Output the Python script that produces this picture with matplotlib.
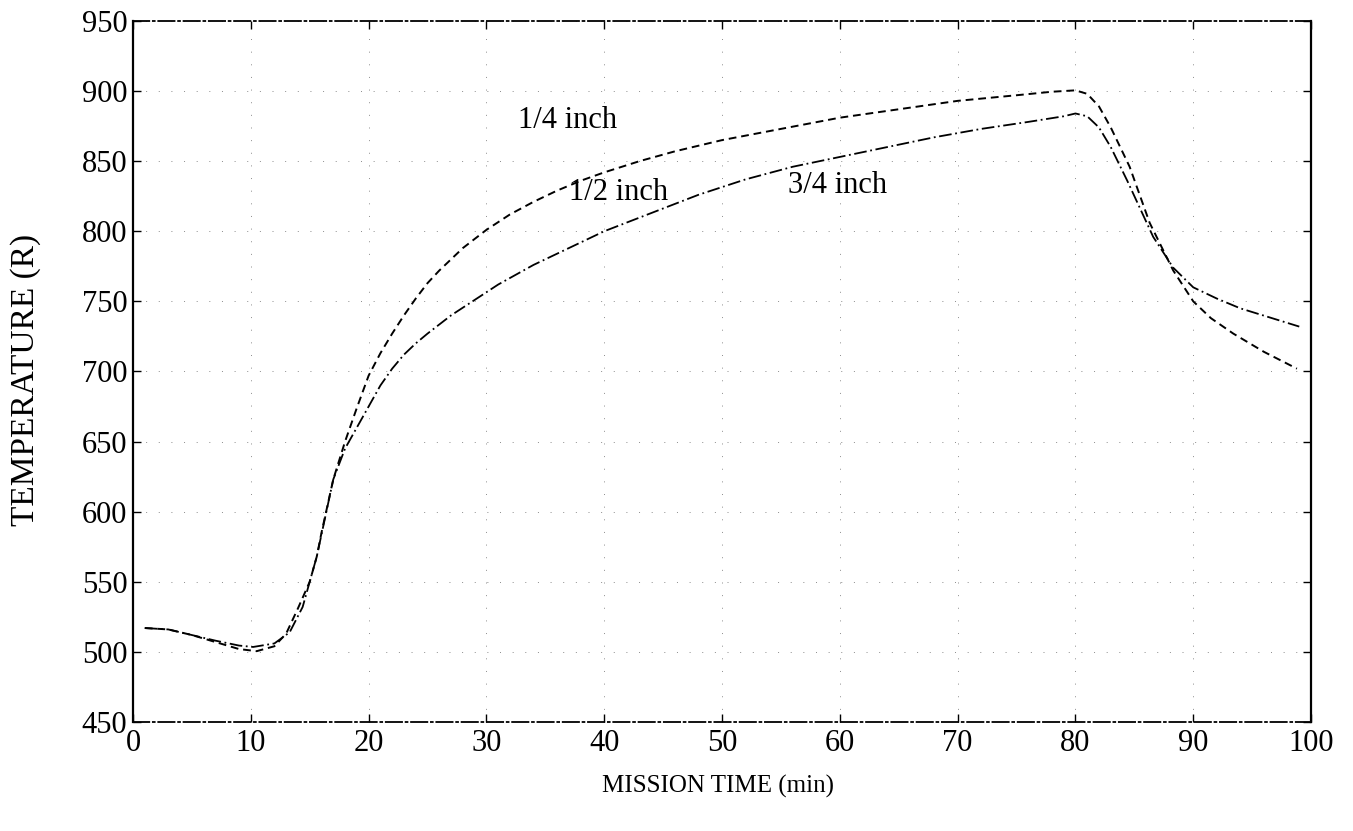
#!/usr/bin/env python3

import matplotlib; matplotlib.use('Agg')
import matplotlib.pyplot as plt

# Data (mission time in min, temperature in R)
x_quarter = [1, 3, 5, 7, 9, 10.5, 12, 13, 14, 15, 15.6, 16, 17, 18, 19, 20, 21, 22, 23,
             24, 25, 26, 28, 30, 32, 34, 36, 38, 40, 43, 46, 50, 55, 60, 65, 70, 75,
             78, 80, 81, 82, 83, 84.6, 86.3, 88.3, 90, 91.5, 93.4, 96, 98.8]
t_quarter = [517, 516, 512, 507, 502, 500.5, 504, 513, 531, 550, 568, 585, 623, 650,
             674, 697, 713, 727, 740, 752, 763, 772, 788, 801, 812, 821, 829, 836, 842,
             850, 857, 865, 873, 881, 887, 893, 897, 899.5, 900.5, 898, 889, 874, 846,
             806, 772, 750, 738, 727, 714, 702]

x_half = [1, 3, 5, 7, 9, 10.2, 12, 13.3, 14.4, 15.6, 17, 18, 19, 20, 21, 22, 23, 24, 25,
          27, 29, 31, 34, 37, 40, 44, 48, 52, 56, 60, 64, 68, 72, 76, 79, 80, 81, 82,
          83, 84.4, 86.6, 88.3, 90, 92, 94, 99]
t_half = [517, 516, 512, 508, 504.5, 503.5, 506, 514, 532, 568, 623, 645, 660, 675, 690,
          702, 712, 720, 727, 740, 751, 762, 776, 788, 800, 813, 826, 837, 846, 853, 860,
          867, 873, 878, 882, 884, 882, 874, 860, 836, 796, 774, 760, 752, 745, 732]

labels = ['1/4 inch', '1/2 inch', '3/4 inch']
label_pos = [(36.9, 878.7), (41.2, 827.3), (59.8, 832.3)]

xticks = list(range(0, 101, 10))
yticks = list(range(450, 951, 50))

plt.rcParams['font.family'] = ['Liberation Serif', 'DejaVu Serif']

fig = plt.figure(figsize=[13.53, 8.31], dpi=100)
ax = fig.add_axes([0.0983, 0.1312, 0.8707, 0.8436])

# Curves
ax.plot(x_quarter, t_quarter, color='black', lw=1.4, linestyle=(0, (4, 2.5)))
ax.plot(x_half, t_half, color='black', lw=1.3, linestyle=(0, (7, 2, 1, 2)))

for lab, (lx, ly) in zip(labels, label_pos):
  ax.text(lx, ly, lab, fontsize=22, ha='center', va='center')

ax.set_xlim(0, 100)
ax.set_ylim(450, 950)
ax.set_xticks(xticks)
ax.set_yticks(yticks)
ax.tick_params(direction='in', length=6, width=1, labelsize=22, top=True, right=True)
ax.tick_params(axis='x', pad=5)
ax.tick_params(axis='y', pad=4)
ax.grid(True, color='0.55', lw=0.7, linestyle=(0, (1, 12)))

for side in ['left', 'right']:
  ax.spines[side].set_linewidth(1.6)
for side in ['top', 'bottom']:
  ax.spines[side].set_linewidth(1.3)
  ax.spines[side].set_linestyle((0, (9, 2, 1, 2)))

fig.text(26 / 1353, 1 - 380 / 831, 'TEMPERATURE (R)', rotation=90, fontsize=24,
         ha='center', va='center')
fig.text(718 / 1353, 1 - 786 / 831, 'MISSION TIME (min)', fontsize=18,
         ha='center', va='center')

fig.savefig('out.png', dpi=100)
